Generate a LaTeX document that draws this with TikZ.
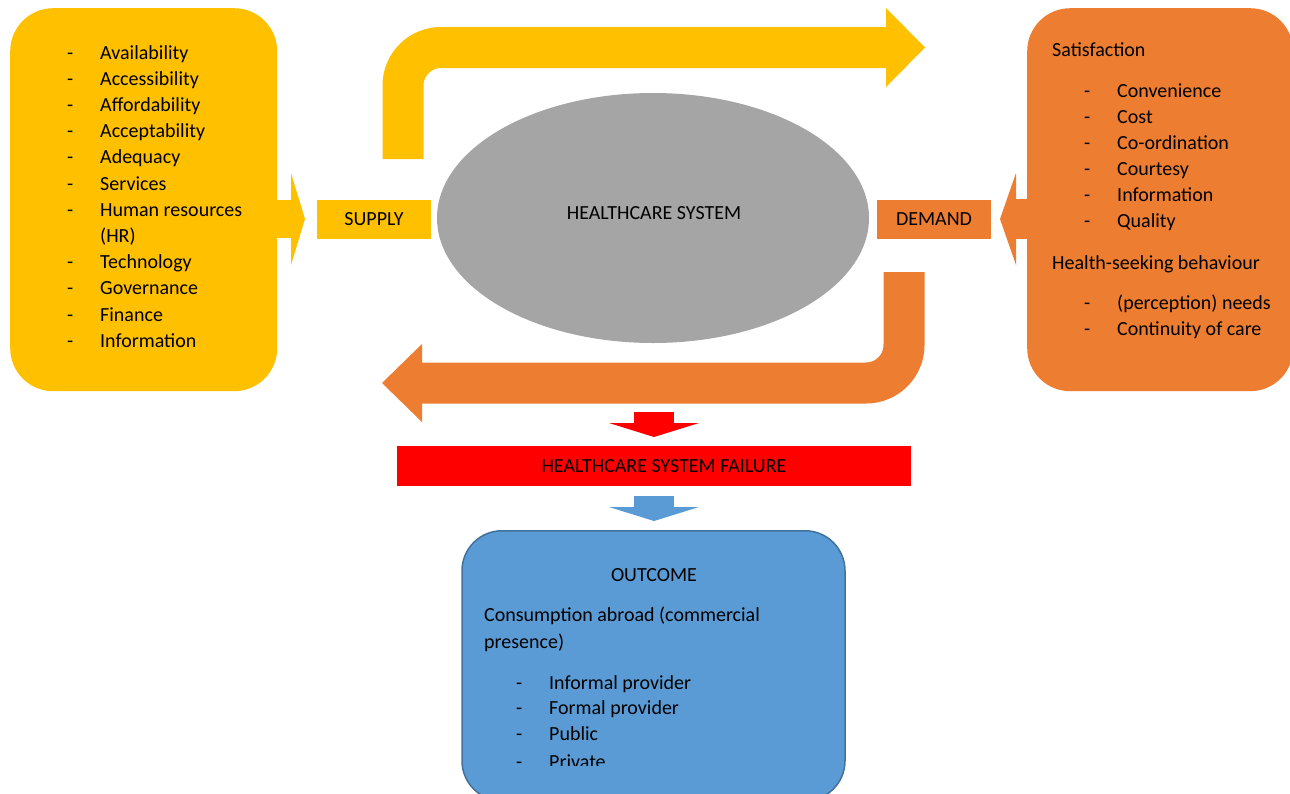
\documentclass[tikz,border=0pt]{standalone}
\usepackage{fontspec}
\setmainfont{Carlito}
\usetikzlibrary{shapes.geometric}
\definecolor{cyellow}{HTML}{FFC000}
\definecolor{corange}{HTML}{ED7D31}
\definecolor{cgray}{HTML}{A5A5A5}
\definecolor{cred}{HTML}{FF0000}
\definecolor{cblue}{HTML}{5B9BD5}
\definecolor{cblueline}{HTML}{41719C}
\begin{document}
\begin{tikzpicture}[x=1pt,y=-1pt,
  txt/.style={font=\fontsize{20}{26}\selectfont, inner sep=0pt, text=black},
  item/.style={txt, anchor=base west},
  bigbox/.style={rectangle, rounded corners=43pt, inner sep=0pt, anchor=north west},
  tag/.style={rectangle, inner sep=0pt, minimum width=114pt, minimum height=39pt, txt},
  band/.style={line width=41pt, rounded corners=38pt}
]
\useasboundingbox (0,0) rectangle (1290,793);
\clip (0,0) rectangle (1290,793);

% ---- boxes ----
\node[bigbox, fill=cyellow, minimum width=267pt, minimum height=383pt] (supplybox) at (10,8) {};
\node[bigbox, fill=corange, minimum width=266pt, minimum height=383pt] (demandbox) at (1027,8) {};
\node[ellipse, fill=cgray, inner sep=0pt, minimum width=432pt, minimum height=250pt] (hcs) at (653,218) {};
\node[txt] (hcslabel) at (654,213) {HEALTHCARE SYSTEM};
\node[tag, fill=cyellow] (supply) at (374,219.5) {SUPPLY};
\node[tag, fill=corange] (demand) at (934,219.5) {DEMAND};
\node[rectangle, fill=cred, inner sep=0pt, minimum width=514pt, minimum height=40pt] (failure) at (654,466) {};
\node[txt] (failurelabel) at (664,466) {HEALTHCARE SYSTEM FAILURE};
\node[rectangle, rounded corners=40pt, fill=cblue, draw=cblueline, line width=1.5pt,
      inner sep=0pt, minimum width=383pt, minimum height=270pt, anchor=north] (outcome) at (653.5,530) {};

% ---- small side arrows ----
\coordinate (ys1) at (276,200); \coordinate (ys2) at (292,238);
\fill[cyellow] (ys1) rectangle (ys2);
\coordinate (yh1) at (291,173); \coordinate (yhtip) at (305,219); \coordinate (yh2) at (291,265);
\fill[cyellow] (yh1) -- (yhtip) -- (yh2) -- cycle;
\coordinate (os1) at (1015,199); \coordinate (os2) at (1030,239);
\fill[corange] (os1) rectangle (os2);
\coordinate (oh1) at (1016,173); \coordinate (ohtip) at (1000,219); \coordinate (oh2) at (1016,265);
\fill[corange] (oh1) -- (ohtip) -- (oh2) -- cycle;

% ---- bent yellow arrow (top) ----
\coordinate (ya) at (403,159); \coordinate (yb) at (403,47.5); \coordinate (yc) at (887,47.5);
\draw[cyellow, band] (ya) -- (yb) -- (yc);
\coordinate (yt1) at (886,8); \coordinate (yttip) at (925,47.5); \coordinate (yt2) at (886,87);
\fill[cyellow] (yt1) -- (yttip) -- (yt2) -- cycle;

% ---- bent orange arrow (bottom) ----
\coordinate (oa) at (904,272); \coordinate (ob) at (904,383); \coordinate (oc) at (421,383);
\draw[corange, band] (oa) -- (ob) -- (oc);
\coordinate (ot1) at (422,344); \coordinate (ottip) at (382,383); \coordinate (ot2) at (422,422);
\fill[corange] (ot1) -- (ottip) -- (ot2) -- cycle;

% ---- down arrows ----
\coordinate (rs1) at (634,412); \coordinate (rs2) at (674,424);
\fill[cred] (rs1) rectangle (rs2);
\coordinate (rh1) at (609,423); \coordinate (rh2) at (699,423); \coordinate (rhtip) at (654,437);
\fill[cred] (rh1) -- (rh2) -- (rhtip) -- cycle;
\coordinate (bs1) at (634,496); \coordinate (bs2) at (674,508);
\fill[cblue] (bs1) rectangle (bs2);
\coordinate (bh1) at (609,507); \coordinate (bh2) at (699,507); \coordinate (bhtip) at (654,521);
\fill[cblue] (bh1) -- (bh2) -- (bhtip) -- cycle;

% ---- left list ----
\foreach \yy/\t [count=\i] in {59/Availability, 85.2/Accessibility, 111.4/Affordability,
  137.6/Acceptability, 163.8/Adequacy, 190/Services, 216.2/Human resources, 242.4/(HR),
  268.6/Technology, 294.8/Governance, 321/Finance, 347.2/Information}
  { \node[item] (sL\i) at (100,\yy) {\t}; }
\foreach \yy [count=\i] in {59, 85.2, 111.4, 137.6, 163.8, 190, 216.2, 268.6, 294.8, 321, 347.2}
  { \node[item] (sD\i) at (67,\yy) {-}; }

% ---- right list ----
\node[item] (sat) at (1052,56) {Satisfaction};
\foreach \yy/\t [count=\i] in {97/Convenience, 123/Cost, 149/Co-ordination, 175/Courtesy,
  201/Information, 227/Quality}
  { \node[item] (dI\i) at (1117,\yy) {\t};
    \node[item] (dD\i) at (1084,\yy) {-}; }
\node[item] (hsb) at (1052,269) {Health-seeking behaviour};
\node[item] (hI1) at (1117,309) {(perception) needs};
\node[item] (hD1) at (1084,309) {-};
\node[item] (hI2) at (1117,335) {Continuity of care};
\node[item] (hD2) at (1084,335) {-};

% ---- outcome text ----
\node[txt, anchor=base] (outtitle) at (654,581) {OUTCOME};
\node[item] (cons1) at (484,621) {Consumption abroad (commercial};
\node[item] (cons2) at (484,648) {presence)};
\begin{scope}
\clip (470,540) rectangle (840,765);
\foreach \yy/\t [count=\i] in {689/Informal provider, 714/Formal provider, 740/Public, 768/Private}
  { \node[item] (oI\i) at (549,\yy) {\t};
    \node[item] (oD\i) at (516,\yy) {-}; }
\end{scope}
\end{tikzpicture}
\end{document}
